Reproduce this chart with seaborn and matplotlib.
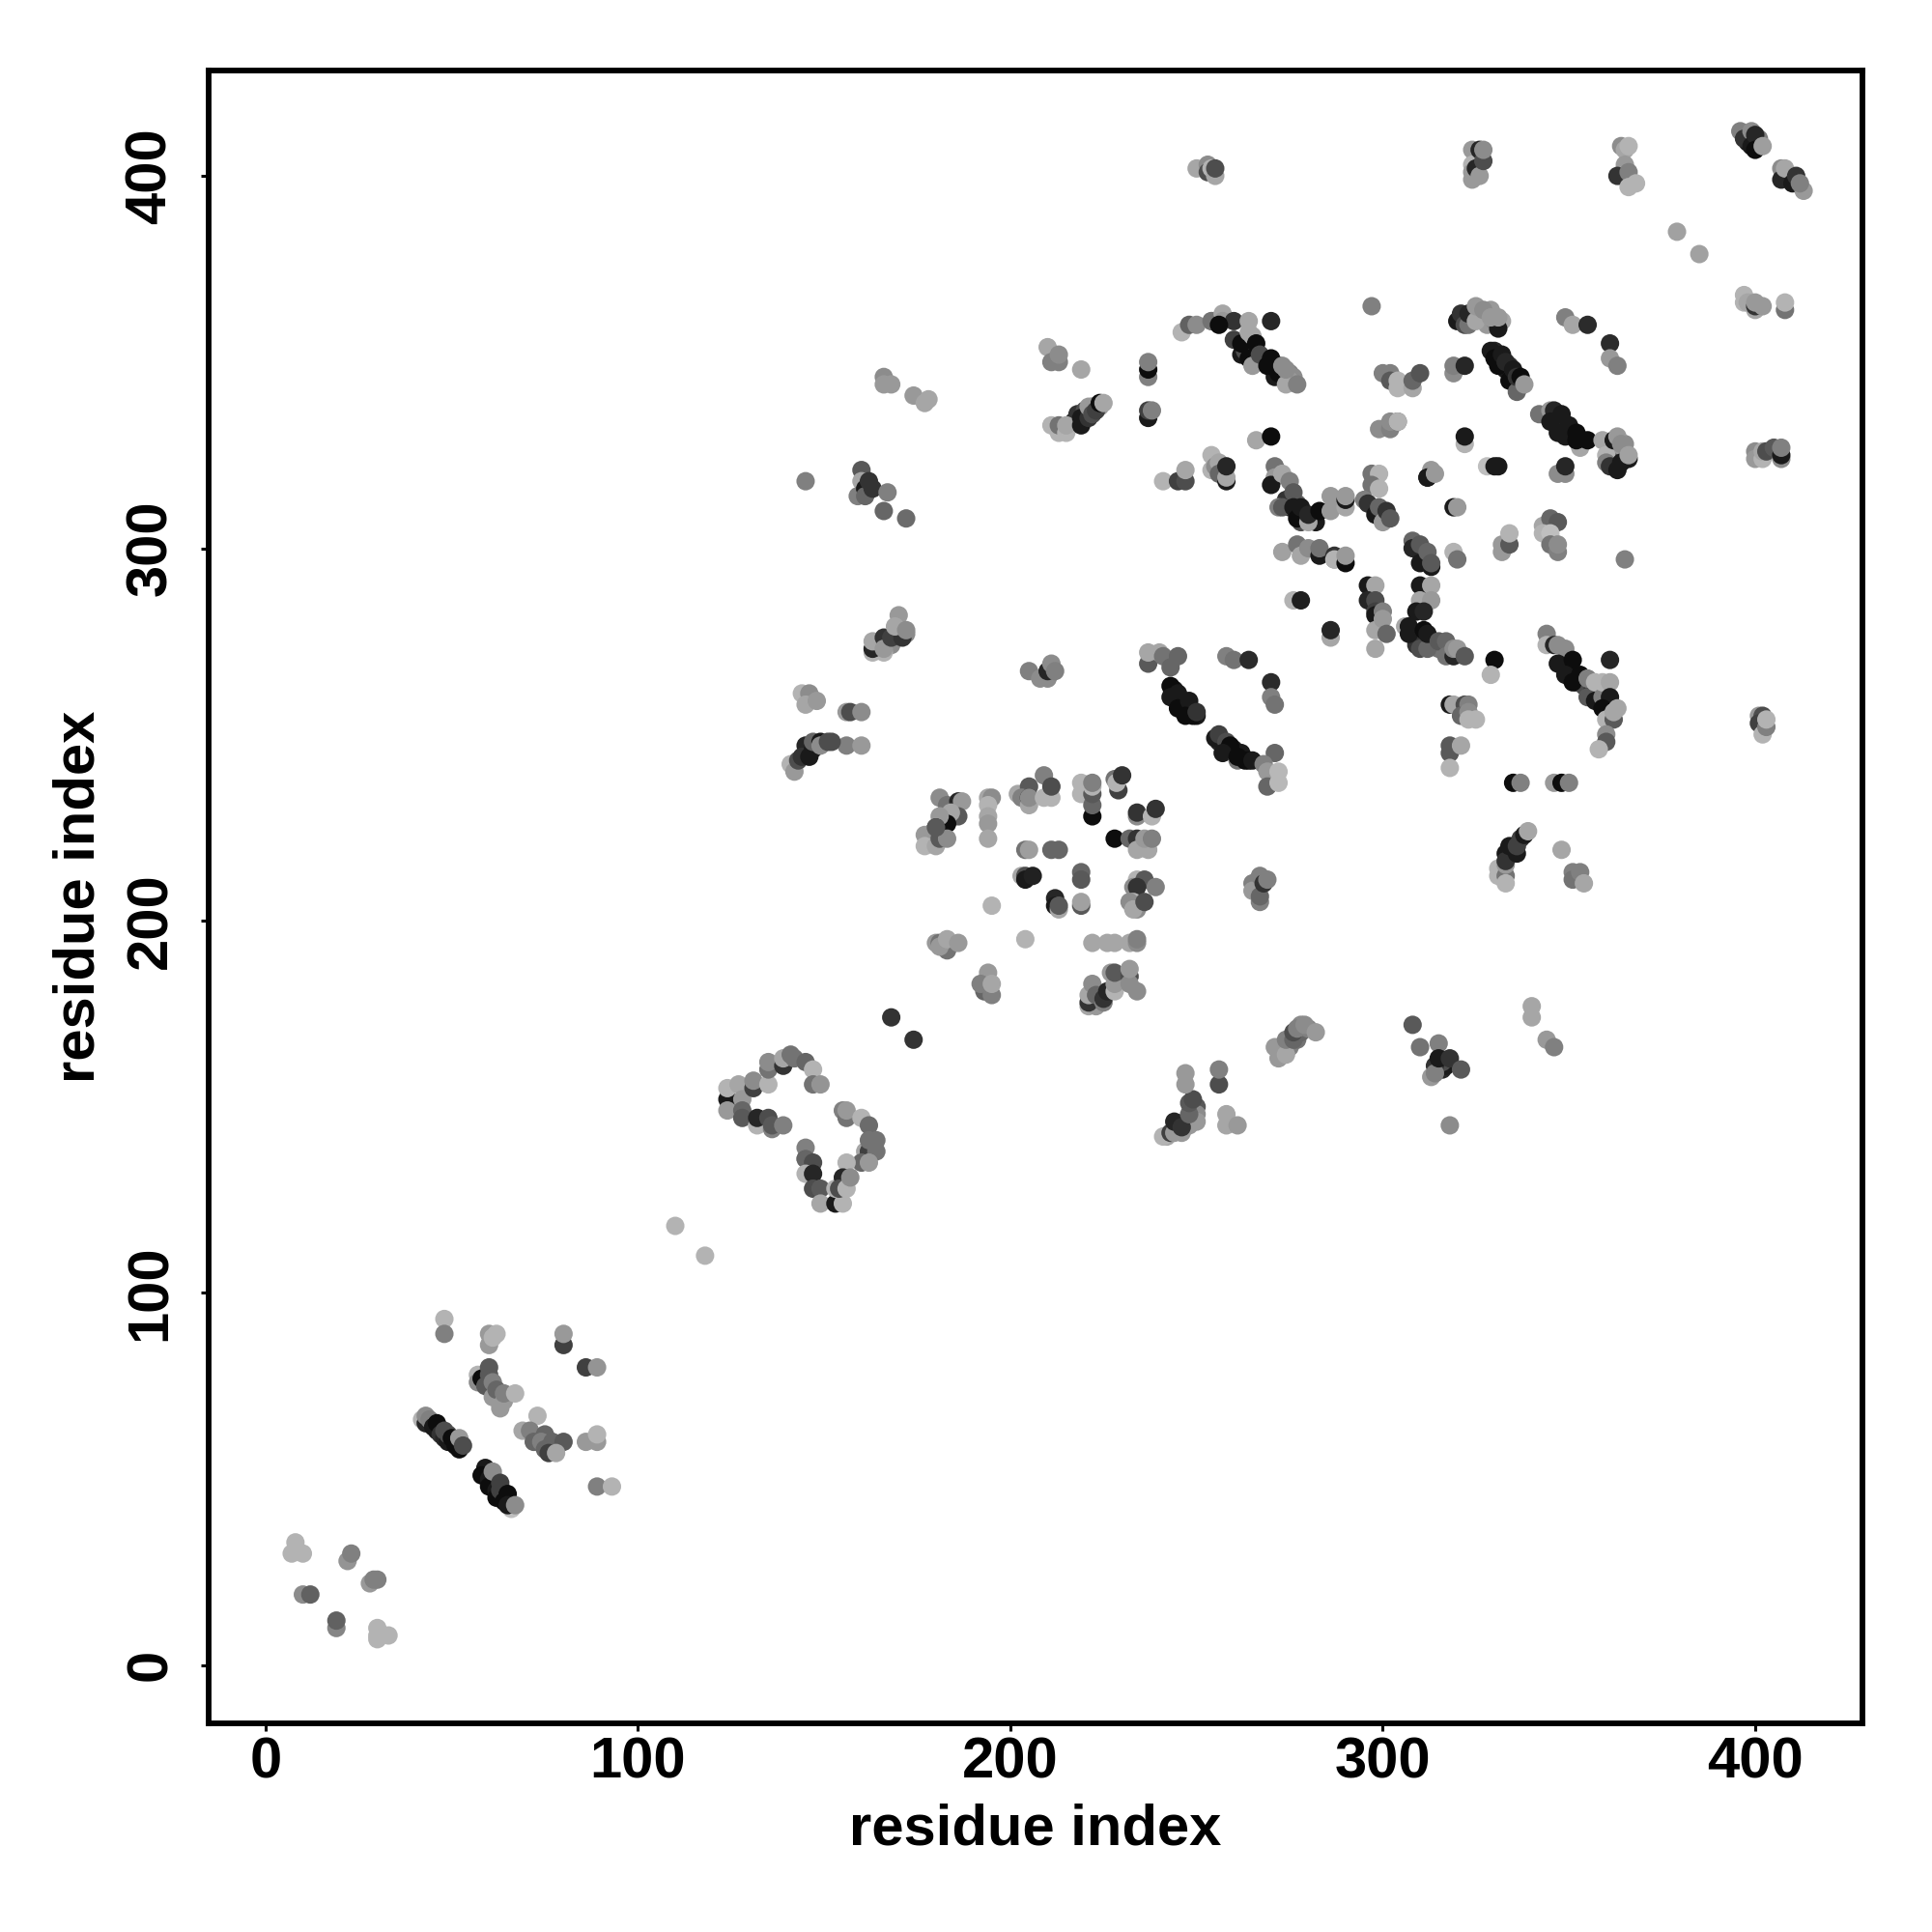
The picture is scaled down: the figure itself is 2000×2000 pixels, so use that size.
import matplotlib
matplotlib.use("Agg")
import matplotlib.pyplot as plt
import pandas as pd
import seaborn as sns

# Each contact: (residue index x, residue index y, grey level)
segment_under = [
(320,361,.1),(321,363,.2),(322,360,.3),(326,362,.55),(328,360,.6),(329,364,.6),(330,361,.55),(332,361,.65),(331,359,.1),
(216,333,.5),(217,334,.15),(218,336,.2),(220,337,.3),(222,338,.4),(224,338,.6),
(165,274,.6),(164,274,.2),(167,275,.3),(168,274,.55),(170,277,.3),(172,277,.55),
(242,142,.65),(245,144,.5),(247,146,.3),(248,147,.2),(249,149,.25),(250,150,.35),(246,143,.6),(248,145,.6),(250,148,.55),(250,146,.6),
(273,166,.4),(275,166,.5),(277,168,.45),(278,170,.4),(280,171,.5),(278,172,.55),
(313,158,.6),(316,160,.15),(317,161,.1),(316,162,.3),(314,161,.2),
(262,352,.1),(263,353,.3),(268,350,.1),(271,348,.2),(272,349,.1),(275,347,.5),(276,346,.55),(275,345,.6),(271,346,.1),
(350,268,.1),(352,264,.1),(354,263,.3),(356,261,.2),(358,259,.1),(360,256,.4),(361,258,.1),
(244,262,.1),(246,258,.1),(248,257,.1),(250,255,.1),
(260,246,.15),(262,245,.1),(264,243,.05),(258,246,.4),(256,248,.15),
(274,313,.2),(275,311,.15),(277,312,.4),(279,309,.1),(281,308,.3),(278,307,.3),(282,307,.1),
(308,277,.1),(310,275,.15),(309,274,.2),(313,274,.3),(315,273,.45),(318,272,.5),
(361,324,.3),(362,326,.45),(363,324,.15),(364,326,.6),(365,328,.55),(362,323,.35),
(330,353,.15),(331,351,.3),(333,348,.1),(334,349,.2),(336,344,.1),
(344,336,.2),(346,335,.1),(349,333,.15),(350,331,.2),(351,330,.05),(353,329,.1),
(398,411,.4),(398,409,.1),(401,409,.1),(401,410,.5),(325,405,.4),(326,404,.2),(325,400,.5),(324,399,.6),
]
segment_n = [
(8,33,.7),(7,30,.7),(10,30,.7),(10,19,.55),(12,19,.38),(22,28,.58),(23,30,.5),(28,22,.6),(29,23,.5),(30,23,.5),
(19,10,.52),(19,12,.38),(30,10,.7),(30,7,.7),(30,8,.7),(33,8,.7),
(42,66,.7),(43,65,.15),(43,67,.55),(44,66,.5),(45,64,.1),(46,63,.1),(46,65,.05),(47,62,.2),(48,61,.15),(48,63,.3),
(49,60,.1),(49,62,.3),(50,61,.05),(51,59,.05),(52,58,.05),(52,61,.6),(53,59,.3),
(59,53,.1),(58,51,.05),(60,50,.1),(60,48,.05),(61,52,.55),(62,47,.1),(62,45,.05),(63,49,.25),(63,47,.25),(64,44,.05),
(65,46,.05),(66,42,.75),(65,43,.1),(67,43,.55),
(57,78,.7),(57,76,.55),(58,77,.05),(59,75,.35),(60,78,.35),(60,80,.35),(61,76,.5),(61,72,.6),(62,74,.4),(63,69,.6),
(64,71,.6),(64,73,.5),(67,73,.7),
(48,93,.7),(48,89,.5),(60,86,.6),(60,89,.6),(62,89,.7),(61,88,.7),(80,86,.25),(80,89,.6),(86,80,.25),(89,80,.58),
(69,63,.65),(73,67,.7),(71,63,.5),(75,62,.4),(72,60,.4),(74,60,.5),(77,60,.4),(80,60,.35),(75,58,.4),(76,57,.25),(78,57,.65),
(86,60,.6),(89,60,.6),(89,62,.7),(89,48,.5),(93,48,.7),(110,118,.7),(118,110,.7),
]
segment_loop = [
(124,152,.1),(124,155,.7),(124,149,.6),(127,156,.65),(128,152,.6),(131,155,.25),(131,157,.55),(135,156,.7),(135,160,.45),
(135,162,.55),(139,161,.2),(139,163,.65),(141,164,.45),(142,163,.45),(145,162,.4),(147,160,.7),(147,156,.45),(149,156,.58),
(128,149,.4),(128,147,.35),(132,145,.7),(132,147,.15),(135,147,.3),(136,144,.5),(136,145,.35),(139,145,.5),
(155,149,.5),(156,147,.45),(156,149,.6),(160,147,.7),(162,145,.42),(161,138,.65),(162,138,.25),(162,141,.45),(164,141,.45),
(164,138,.45),(160,135,.4),(162,135,.6),(156,135,.7),
(145,139,.5),(145,136,.6),(145,136,.4),(147,135,.3),(145,132,.7),(147,132,.15),(147,128,.3),(149,128,.35),(149,124,.65),
(153,124,.1),(155,124,.7),(153,128,.7),(155,131,.15),(154,128,.3),(156,128,.7),(157,131,.55),
(168,174,.2),(174,168,.2),
]
segment_core = [
(181,233,.55),(183,231,.45),(186,232,.15),(187,232,.6),(186,228,.35),(184,229,.65),(183,226,.05),(181,228,.6),(180,225,.15),
(179,223,.25),(177,223,.6),(177,220,.7),(180,220,.65),(181,222,.35),(183,222,.55),(180,225,.35),
(194,233,.65),(195,233,.55),(194,231,.7),(194,228,.65),(194,226,.6),(194,222,.65),
(202,234,.65),(205,236,.35),(203,233,.5),(205,233,.1),(205,231,.65),(205,233,.55),(209,239,.5),(209,233,.7),(211,233,.7),(211,236,.3),
(219,237,.7),(219,234,.7),(222,228,.05),(222,231,.4),(222,234,.35),(222,236,.7),(222,237,.5),
(228,238,.45),(229,235,.25),(228.5,237,.7),(230,239,.2),(234,228,.55),(234,229,.2),(238,228,.7),(239,230,.2),
(228,222,.05),(232,222,.4),(234,222,.2),(234,219,.65),(237,219,.65),(236,222,.6),(238,222,.5),
(204,219,.45),(205,219,.62),(211,219,.4),(213,219,.4),(203,212,.65),(204,212,.3),(204,211,.1),(206,212,.13),
(219,213,.4),(219,211,.35),(212,206,.15),(212,204,.1),(213,203,.65),(213,204,.35),(219,204,.35),(219,205,.63),
(234,211,.7),(233,209,.55),(236,211,.35),(239,209,.5),(234,209,.2),(233,205,.7),(232,205,.55),(234,203,.55),(233,203,.65),(236,205,.3),
(195,204,.7),(204,195,.7),
(180,194,.6),(181,194,.45),(183,192,.45),(181,193,.6),(183,195,.65),(186,194,.6),
(222,194,.65),(226,194,.65),(228,194,.65),(232,194,.65),(234,194,.55),(234,195,.5),
(194,186,.6),(193,181,.4),(192,183,.5),(195,180,.5),(195,183,.65),
(221,177,.65),(223,177,.6),(221,178,.2),(221,180,.65),(222,183,.55),(223,180,.4),(225,178,.5),(225,179,.2),(226,181,.15),
(227,186,.6),(228,181,.7),(228,183,.6),(228,186,.35),(232,185,.3),(232,183,.55),(232,187,.6),(234,181,.55),
(265,210,.5),(265,208,.6),(267,205,.5),(267,206.5,.4),(267,212,.5),(268,210,.2),(269,211,.5),
]
segment_upper_left = [
(166,346,.55),(166,344,.6),(168,344,.6),(174,341,.6),(177,339,.65),(178,340,.65),
(210,354,.65),(211,350,.5),(213,350,.5),(213,352,.55),(219,348,.65),
(237,346,.5),(237,348,.05),(237,350,.5),(237,335,.1),(237,337,.25),(238,337,.5),
(211,333,.7),(213,331,.7),(213,333,.45),(215,331,.7),(215,333,.65),(219,335,.1),(219,333,.1),(221,335,.2),(221,338,.6),
(222,336,.3),(223,337,.25),(224,339,.05),(225,339,.65),
(145,318,.5),(160,321,.35),(160,318,.65),(159,314,.5),(161,316,.1),(161,314,.4),(162,318,.2),(163,316,.2),(167,315,.5),(166,310,.4),(172,308,.42),
(241,318,.7),(245,318,.25),(247,318,.3),(247,321,.65),
(163,272,.7),(166,272,.7),(163,273,.15),(163,275,.65),(166,276,.2),(166,273,.6),(168,276,.25),(171,276,.2),(170,282,.6),(169,279,.65),(172,278,.55),
(205,267,.5),(208,265,.55),(210,265,.55),(210,267,.15),(211,269,.55),(212,267,.5),
(237,269,.35),(237,272,.65),(240,272,.65),(241,271,.45),(243,268,.4),(245,271,.4),
(243,263,.05),(243,260,.1),(245,261,.1),(245,257,.05),(248,259,.1),(247,255,.05),(249,255,.05),(250,256,.2),
(144,261,.7),(146,261,.55),(145,258,.65),(148,259,.6),(156,256,.6),(157,256,.3),(160,256,.55),(156,247,.5),(160,247,.6),
(141,242,.7),(142,240,.6),(143,243,.3),(145,247,.15),(144,244,.2),(146,244,.1),(147,246,.1),(147,248,.4),(149,248,.1),(149,247,.55),(151,248,.3),(152,248,.3),
]
segment_upper_middle = [
(250,402,.65),(253,403,.55),(253,401,.3),(254,402,.7),(255,400,.65),(255,402,.3),
(324,407,.6),(324,403,.7),(324,401,.6),(325,402,.15),(326,400,.6),(326,407,.15),(327,404,.3),(327,407,.55),
(246,358,.7),(248,360,.38),(250,360,.55),(254,361,.55),(254,361,.45),(257,363,.65),(257,361,.6),(260,361,.2),(264,361,.65),(270,361,.15),
(256,360,.05),(260,356,.25),(262,355,.05),(264,351,.05),(264,358,.65),(265,357,.65),(266,355,.05),(265,349,.6),(267,352,.3),
(269,349,.05),(270,351,.05),(272,347,.05),(273,349,.55),(274,344,.65),(274,348,.55),(277,344,.5),
(297,365,.5),(300,347,.5),(302,347,.5),(302,345,.35),(304,343,.7),(304,345,.7),(308,343,.65),(308,345,.4),(310,347,.33),
(319,347,.55),(319,349,.5),(322,349,.15),
(299,332,.55),(302,332,.5),(302,334,.55),(304,334,.35),(304,334,.7),(266,329,.65),(270,330,.05),(322,328,.7),(322,330,.1),
(328,322,.75),(330,322,.1),(297,320,.45),(299,320,.7),(312,319,.1),(313,321,.6),(313,320,.6),
(323,360,.45),(323,363,.15),(325,361,.65),(325,365,.6),(327,364,.55),(329,362,.6),(331,362,.6),
]
segment_upper_right = [
(364,408,.55),(365,407,.65),(366,408,.7),(365,403,.6),(364,400,.7),(363,400,.2),(366,401,.5),(366,397,.7),(368,398,.7),
(379,385,.63),(385,379,.63),
(396,412,.5),(397,410,.2),(399,412,.55),(399,408,.1),(400,411,.15),(400,407,.05),(402,408,.62),
(407,402,.55),(407,399,.15),(408,402,.65),(410,398,.1),(411,400,.2),(413,396,.6),(412,398,.5),
(397,368,.7),(397,366,.7),(398,366,.65),(400,364,.65),(400,365,.2),(400,366,.6),(402,365,.6),(408,364,.45),(408,366,.7),
(349,362,.5),(351,360,.65),(355,360,.17),(361,355,.17),(361,351,.6),(363,349,.5),
(329,353,.1),(330,351,.05),(331,349,.05),(332,352,.1),(333,350,.15),(334,345,.05),(335,348,.1),(336,342,.4),(336,346,.2),(337,346,.05),(338,344,.6),
(342,336,.45),(345,337,.6),(346,337,.15),(345,334,.1),(348,336,.1),(347,331,.1),(350,333,.1),(349,330,.1),(353,327,.65),(352,331,.05),(352,329,.05),(355,329,.05),
(359,329,.65),(360,325,.7),(360,323,.5),(361,322,.2),(362,329,.1),(363,330,.6),(364,328,.55),(363,321,.1),(364,323,.1),(366,324,.1),(366,325,.63),
(400,326,.55),(400,324,.6),(402,324,.7),(402,326,.65),(403,326,.3),(405,327,.35),(407,324,.55),(407,325,.1),(407,327,.5),
(347,320,.55),(349,320,.55),(349,322,.15),(331,322,.1),
]
segment_centre_right = [
(254,325,.7),(254,321,.7),(255,322,.55),(256,323,.65),(256,320,.4),(258,318,.1),(258,319,.65),(258,322,.15),
(271,322,.45),(271,319,.6),(270,317,.1),(273,320,.65),(275,318,.5),(276,315,.35),(272,311,.5),(273,311,.35),(276,311,.1),
(277,308,.05),(278,311,.1),(280,307,.65),(280,309,.15),(283,310,.05),(286,314,.6),(286,310,.6),(287,312,.6),(290,311,.65),(290,313,.1),(290,314,.6),
(297,317,.45),(299,316,.7),(295,313,.5),(296,312,.2),(298,309,.1),(299,311,.4),(300,307,.6),(301,310,.2),(302,308,.35),
(312,319,.1),(314,320,.6),(319,311,.1),(320,311,.6),
(273,299,.63),(277,301,.45),(278,298,.65),(280,300,.55),(283,298,.1),(283,300,.45),(287,297,.55),(287,298,.2),(287,297,.7),(290,296,.05),(290,298,.6),
(308,302,.4),(308,300,.15),(310,301,.35),(310,296,.1),(313,295,.1),(312,299,.4),(313,296,.35),(319,299,.7),(320,297,.45),
(332,299,.6),(332,301,.6),(334,301,.35),(334,304,.7),(343,306,.65),(345,308,.4),(347,307,.35),(343,304,.7),(345,304,.75),(345,301,.45),(347,299,.5),(347,301,.55),(365,297,.5),
(296,290,.1),(298,290,.65),(296,286,.15),(298,286,.3),(298,283,.25),(298,282,.1),(300,283,.5),(298,278,.65),(300,281,.6),(301,277,.4),(298,273,.65),
(310,290,.1),(313,290,.65),(310,286,.65),(313,286,.6),(309,283,.1),(311,283,.15),(306,279,.65),(307,279,.1),(307,277,.1),(311,278,.05),
(310,273,.3),(312,273,.4),(312,277,.1),(315,275,.35),(317,275,.4),(317,271,.45),(319,271,.15),(319,273,.55),(320,273,.6),(322,271,.35),
(276,286,.7),(278,286,.12),(286,276,.65),(286,278,.15),(258,271,.5),(260,270,.45),(264,270,.17),(270,264,.17),(270,260,.5),(271,258,.45),
]
segment_lower_right = [
(344,277,.5),(344,274,.7),(346,274,.15),(347,274,.55),(349,273,.55),(347,269,.1),(351,270,.05),(349,266,.1),(351,264,.05),(353,266,.05),(355,265,.5),
(355,260,.35),(357,259,.1),(357,264,.7),(359,260,.5),(359,264,.7),(361,264,.65),(361,260,.1),(359,257,.05),(360,254,.7),(362,254,.35),(362,256,.65),(363,257,.65),
(360,250,.55),(360,248,.35),(358,246,.7),(361,270,.15),(330,270,.05),(329,266,.7),
(401,255,.6),(402,255,.3),(401,253,.25),(402,250,.7),(403,252,.5),(403,254,.7),
(335,237,.05),(337,237,.5),(346,237,.6),(348,237,.05),(350,237,.5),
(255,249,.1),(256,250,.25),(258,248,.3),(259,247,.05),(257,245,.1),(261,243,.45),(261,244,.05),(263,243,.05),(265,243,.1),
(271,245,.4),(268,242,.5),(269,240,.6),(269,236,.4),(272,240,.72),(272,237,.72),
(318,258,.1),(319,258,.65),(322,258,.3),(323,258,.5),(321,255,.4),(323,256,.55),(323,254,.7),(325,254,.7),
(318,247,.35),(318,245,.35),(321,247,.65),(318,241,.7),
(331,214,.7),(331,212,.7),(333,212,.45),(333,215,.6),(333,210,.7),(333,218,.1),(333,216,.2),(334,220,.1),(336,218,.1),(336,220,.25),(337,222,.25),(338,223,.1),(339,224,.65),
(348,219,.65),(351,213,.5),(351,211,.45),(353,213,.5),(354,210,.65),
]
segment_lower_middle = [
(241,142,.7),(243,143,.25),(244,143,.6),(244,146,.15),(246,144.5,.2),(248,148,.4),(248,151,.35),(249,152,.3),(247,156,.6),(247,159,.6),
(256,156,.3),(256,160,.5),(258,145,.65),(258,148,.65),(261,145,.6),
(271,166,.6),(272,163,.6),(274,164,.65),(274,168,.5),(276,168,.4),(276,170,.3),(277,171,.5),(279,172,.55),(282,170,.6),
(308,172,.35),(310,166,.45),(315,167,.5),(314,159,.5),(315,163,.1),(318,163,.2),(321,160,.35),(318,145,.55),
(340,177,.65),(340,174,.65),(344,168,.6),(346,166,.5),
]

x_ticks = [0, 100, 200, 300, 400]
y_ticks = [0, 100, 200, 300, 400]
x_label = "residue index"
y_label = "residue index"

contacts = pd.DataFrame(
    segment_under + segment_n + segment_loop + segment_core + segment_upper_left + segment_upper_middle
    + segment_upper_right + segment_centre_right + segment_lower_right + segment_lower_middle,
    columns=["i", "j", "shade"],
)

sns.set_theme(style="white")
plt.rcParams["font.family"] = ["Liberation Sans", "DejaVu Sans"]

fig = plt.figure(figsize=(10, 10), dpi=200)
ax = fig.add_axes([0.108, 0.108, 0.856, 0.8555])
palette = {g: (g, g, g) for g in contacts["shade"].unique()}
sns.scatterplot(data=contacts, x="i", y="j", hue="shade", palette=palette, s=47,
                linewidth=0, legend=False, ax=ax, clip_on=True)
ax.set_xlim(-15.3, 428.8)
ax.set_ylim(-15.6, 428.3)
ax.set_xticks(x_ticks)
ax.set_yticks(y_ticks)
ax.tick_params(axis="x", length=3, width=1.1, color="black", bottom=True, pad=1.8)
ax.tick_params(axis="y", length=3, width=1.1, color="black", left=True, pad=8.5)
for lab in ax.get_xticklabels():
    lab.set_fontsize(21.5); lab.set_fontweight("bold"); lab.set_color("black")
for lab in ax.get_yticklabels():
    lab.set_fontsize(21.5); lab.set_fontweight("bold"); lab.set_color("black")
    lab.set_rotation(90); lab.set_va("center")
ax.set_xlabel("")
ax.set_ylabel("")
fig.text(0.536, 0.0528, x_label, ha="center", va="center", fontsize=21.5, fontweight="bold", color="black")
fig.text(0.0408, 0.536, y_label, ha="center", va="center", rotation=90, fontsize=21.5, fontweight="bold", color="black")
for s in ax.spines.values():
    s.set_visible(True); s.set_linewidth(2.1); s.set_color("black")
fig.savefig("out.png", dpi=200, facecolor="white")
